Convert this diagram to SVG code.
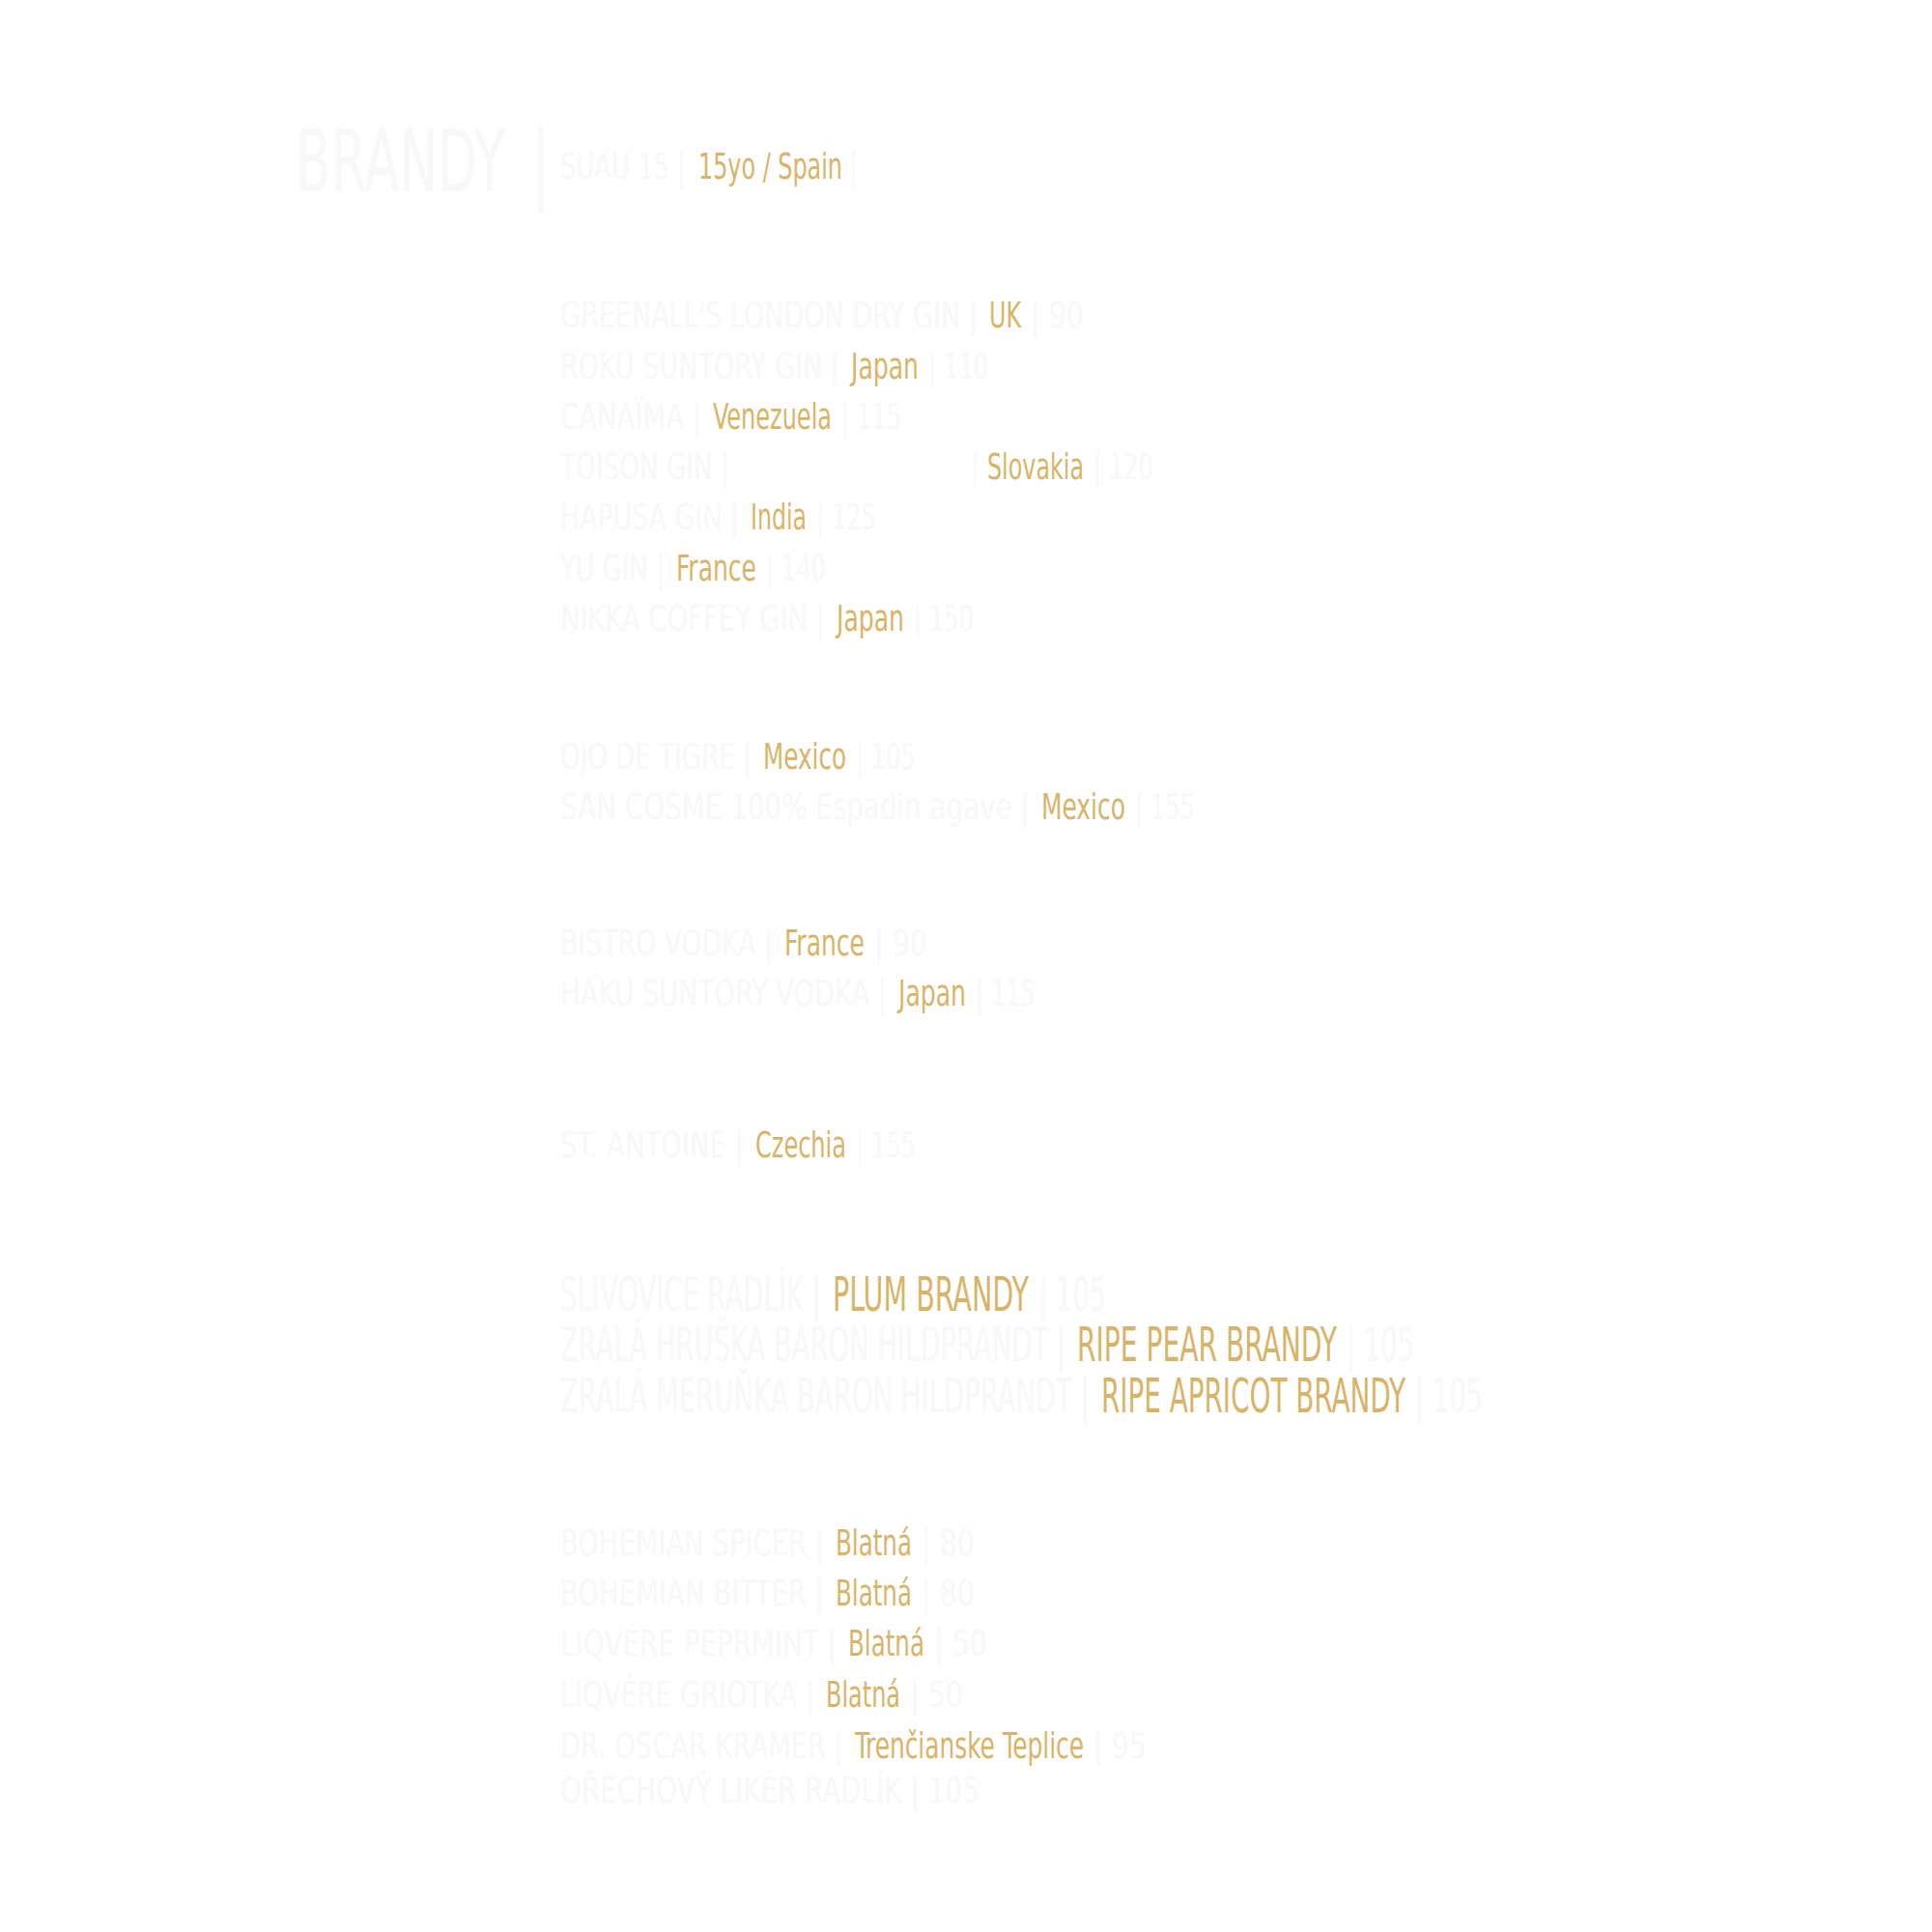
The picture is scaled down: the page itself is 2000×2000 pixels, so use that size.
<svg xmlns="http://www.w3.org/2000/svg" width="2000" height="2000" viewBox="0 0 2000 2000">
<style>
text{font-family:"Liberation Sans Narrow","DejaVu Sans Condensed","Liberation Sans",sans-serif;font-size:38px}
.w{fill:#f8f8f8}
.g{fill:#d8b468}
.big{font-size:50px}
.h{font-size:89px}
</style>
<rect width="2000" height="2000" fill="#ffffff"/>
<g transform="scale(0.6 1)">
<g id="heading"><text class="h" y="198"><tspan class="w" x="510" textLength="361.67" lengthAdjust="spacingAndGlyphs">BRANDY</tspan><tspan class="w" x="920">|</tspan></text></g>
<g id="suau"><text y="185"><tspan class="w" x="966.67" textLength="216.67" lengthAdjust="spacingAndGlyphs">SUAU 15 |</tspan><tspan class="g" x="1205" textLength="248.33" lengthAdjust="spacingAndGlyphs">15yo / Spain</tspan><tspan class="w" x="1466.67">|</tspan></text></g>
<g id="greenalls"><text y="339"><tspan class="w" x="966.67" textLength="720" lengthAdjust="spacingAndGlyphs">GREENALL'S LONDON DRY GIN |</tspan><tspan class="g" x="1706.67" textLength="55" lengthAdjust="spacingAndGlyphs">UK</tspan><tspan class="w" x="1778.33" textLength="91.67" lengthAdjust="spacingAndGlyphs">| 90</tspan></text></g>
<g id="roku"><text y="392"><tspan class="w" x="966.67" textLength="481.67" lengthAdjust="spacingAndGlyphs">ROKU SUNTORY GIN |</tspan><tspan class="g" x="1468.33" textLength="116.67" lengthAdjust="spacingAndGlyphs">Japan</tspan><tspan class="w" x="1601.67" textLength="103.33" lengthAdjust="spacingAndGlyphs">| 110</tspan></text></g>
<g id="canaima"><text y="444"><tspan class="w" x="966.67" textLength="243.33" lengthAdjust="spacingAndGlyphs">CANAÏMA |</tspan><tspan class="g" x="1230" textLength="205" lengthAdjust="spacingAndGlyphs">Venezuela</tspan><tspan class="w" x="1451.67" textLength="103.33" lengthAdjust="spacingAndGlyphs">| 115</tspan></text></g>
<g id="toison"><text y="496"><tspan class="w" x="966.67" textLength="291.67" lengthAdjust="spacingAndGlyphs">TOISON GIN |</tspan><tspan class="w" x="1676.67">|</tspan><tspan class="g" x="1703.33" textLength="166.67" lengthAdjust="spacingAndGlyphs">Slovakia</tspan><tspan class="w" x="1886.67" textLength="103.33" lengthAdjust="spacingAndGlyphs">| 120</tspan></text></g>
<g id="hapusa"><text y="548"><tspan class="w" x="966.67" textLength="308.33" lengthAdjust="spacingAndGlyphs">HAPUSA GIN |</tspan><tspan class="g" x="1295" textLength="96.67" lengthAdjust="spacingAndGlyphs">India</tspan><tspan class="w" x="1408.33" textLength="103.33" lengthAdjust="spacingAndGlyphs">| 125</tspan></text></g>
<g id="yugin"><text y="601"><tspan class="w" x="966.67" textLength="180" lengthAdjust="spacingAndGlyphs">YU GIN |</tspan><tspan class="g" x="1166.67" textLength="138.33" lengthAdjust="spacingAndGlyphs">France</tspan><tspan class="w" x="1321.67" textLength="103.33" lengthAdjust="spacingAndGlyphs">| 140</tspan></text></g>
<g id="nikka"><text y="653"><tspan class="w" x="966.67" textLength="456.67" lengthAdjust="spacingAndGlyphs">NIKKA COFFEY GIN |</tspan><tspan class="g" x="1443.33" textLength="116.67" lengthAdjust="spacingAndGlyphs">Japan</tspan><tspan class="w" x="1576.67" textLength="103.33" lengthAdjust="spacingAndGlyphs">| 150</tspan></text></g>
<g id="ojo"><text y="796"><tspan class="w" x="966.67" textLength="330" lengthAdjust="spacingAndGlyphs">OJO DE TIGRE |</tspan><tspan class="g" x="1316.67" textLength="143.33" lengthAdjust="spacingAndGlyphs">Mexico</tspan><tspan class="w" x="1476.67" textLength="103.33" lengthAdjust="spacingAndGlyphs">| 105</tspan></text></g>
<g id="sancosme"><text y="848"><tspan class="w" x="966.67" textLength="810" lengthAdjust="spacingAndGlyphs">SAN COSME 100% Espadin agave |</tspan><tspan class="g" x="1796.67" textLength="145" lengthAdjust="spacingAndGlyphs">Mexico</tspan><tspan class="w" x="1958.33" textLength="103.33" lengthAdjust="spacingAndGlyphs">| 155</tspan></text></g>
<g id="bistro"><text y="989"><tspan class="w" x="966.67" textLength="366.67" lengthAdjust="spacingAndGlyphs">BISTRO VODKA |</tspan><tspan class="g" x="1353.33" textLength="138.33" lengthAdjust="spacingAndGlyphs">France</tspan><tspan class="w" x="1508.33" textLength="91.67" lengthAdjust="spacingAndGlyphs">| 90</tspan></text></g>
<g id="haku"><text y="1041"><tspan class="w" x="966.67" textLength="563.33" lengthAdjust="spacingAndGlyphs">HAKU SUNTORY VODKA |</tspan><tspan class="g" x="1550" textLength="116.67" lengthAdjust="spacingAndGlyphs">Japan</tspan><tspan class="w" x="1683.33" textLength="103.33" lengthAdjust="spacingAndGlyphs">| 115</tspan></text></g>
<g id="stantoine"><text y="1198"><tspan class="w" x="966.67" textLength="316.67" lengthAdjust="spacingAndGlyphs">ST. ANTOINE |</tspan><tspan class="g" x="1303.33" textLength="156.67" lengthAdjust="spacingAndGlyphs">Czechia</tspan><tspan class="w" x="1476.67" textLength="103.33" lengthAdjust="spacingAndGlyphs">| 155</tspan></text></g>
<g id="spicer"><text y="1610"><tspan class="w" x="966.67" textLength="455" lengthAdjust="spacingAndGlyphs">BOHEMIAN SPICER |</tspan><tspan class="g" x="1441.67" textLength="131.67" lengthAdjust="spacingAndGlyphs">Blatná</tspan><tspan class="w" x="1590" textLength="91.67" lengthAdjust="spacingAndGlyphs">| 80</tspan></text></g>
<g id="bitter"><text y="1662"><tspan class="w" x="966.67" textLength="455" lengthAdjust="spacingAndGlyphs">BOHEMIAN BITTER |</tspan><tspan class="g" x="1441.67" textLength="131.67" lengthAdjust="spacingAndGlyphs">Blatná</tspan><tspan class="w" x="1590" textLength="91.67" lengthAdjust="spacingAndGlyphs">| 80</tspan></text></g>
<g id="peprmint"><text y="1714"><tspan class="w" x="966.67" textLength="476.67" lengthAdjust="spacingAndGlyphs">LIQVÉRE PEPRMINT |</tspan><tspan class="g" x="1463.33" textLength="131.67" lengthAdjust="spacingAndGlyphs">Blatná</tspan><tspan class="w" x="1611.67" textLength="91.67" lengthAdjust="spacingAndGlyphs">| 50</tspan></text></g>
<g id="griotka"><text y="1767"><tspan class="w" x="966.67" textLength="438.33" lengthAdjust="spacingAndGlyphs">LIQVÉRE GRIOTKA |</tspan><tspan class="g" x="1425" textLength="128.33" lengthAdjust="spacingAndGlyphs">Blatná</tspan><tspan class="w" x="1570" textLength="91.67" lengthAdjust="spacingAndGlyphs">| 50</tspan></text></g>
<g id="kramer"><text y="1820"><tspan class="w" x="966.67" textLength="488.33" lengthAdjust="spacingAndGlyphs">DR. OSCAR KRAMER |</tspan><tspan class="g" x="1475" textLength="395" lengthAdjust="spacingAndGlyphs">Trenčianske Teplice</tspan><tspan class="w" x="1886.67" textLength="91.67" lengthAdjust="spacingAndGlyphs">| 95</tspan></text></g>
<g id="orechovy"><text class="w" x="966.67" y="1866" textLength="723.33" lengthAdjust="spacingAndGlyphs">OŘECHOVÝ LIKÉR RADLÍK | 105</text></g>
</g>
<g transform="scale(0.54 1)">
<g id="slivovice"><text class="big" y="1357"><tspan class="w" x="1074.07" textLength="500" lengthAdjust="spacingAndGlyphs">SLIVOVICE RADLÍK |</tspan><tspan class="g" x="1596.3" textLength="375.93" lengthAdjust="spacingAndGlyphs">PLUM BRANDY</tspan><tspan class="w" x="1990.74" textLength="129.63" lengthAdjust="spacingAndGlyphs">| 105</tspan></text></g>
<g id="hruska"><text class="big" y="1409"><tspan class="w" x="1074.07" textLength="968.52" lengthAdjust="spacingAndGlyphs">ZRALÁ HRUŠKA BARON HILDPRANDT |</tspan><tspan class="g" x="2064.81" textLength="498.15" lengthAdjust="spacingAndGlyphs">RIPE PEAR BRANDY</tspan><tspan class="w" x="2581.48" textLength="129.63" lengthAdjust="spacingAndGlyphs">| 105</tspan></text></g>
<g id="merunka"><text class="big" y="1462"><tspan class="w" x="1074.07" textLength="1014.81" lengthAdjust="spacingAndGlyphs">ZRALÁ MERUŇKA BARON HILDPRANDT |</tspan><tspan class="g" x="2111.11" textLength="583.33" lengthAdjust="spacingAndGlyphs">RIPE APRICOT BRANDY</tspan><tspan class="w" x="2712.96" textLength="129.63" lengthAdjust="spacingAndGlyphs">| 105</tspan></text></g>
</g>
</svg>
